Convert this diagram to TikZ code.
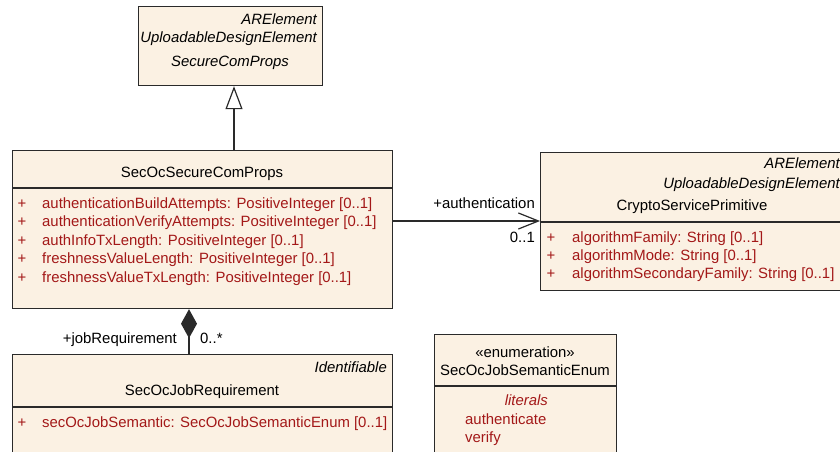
\documentclass[tikz,border=0pt]{standalone}
\usepackage{fontspec}
\setmainfont{Liberation Sans}
\usepackage{tikz}
\usetikzlibrary{arrows.meta}
\definecolor{umlfill}{HTML}{FBF1E3}
\definecolor{umlred}{HTML}{A31818}
\definecolor{umlline}{HTML}{2A2A2A}
\tikzset{
  cls/.style={draw=umlline,fill=umlfill,line width=1.2pt,anchor=north west,inner sep=0pt},
  txt/.style={inner sep=0pt,text height=10.5pt,text depth=0pt},
  cname/.style={txt,anchor=center},
  stereo/.style={txt,anchor=east,font=\itshape},
  attr/.style={txt,anchor=west,text=umlred},
  plus/.style={txt,anchor=center,text=umlred},
  sep/.style={draw=umlline,line width=1.2pt},
  gen/.style={-{Triangle[open,length=23pt,width=17pt]},draw=umlline,line width=1.2pt},
  assoc/.style={-{Straight Barb[length=20pt,width=16pt]},draw=umlline,line width=1.2pt},
  comp/.style={{Diamond[length=29pt,width=16pt]}-,draw=umlline,line width=1.2pt},
}
\begin{document}
\fontsize{14.9}{17}\selectfont
\begin{tikzpicture}[x=1pt,y=-1pt]
\useasboundingbox (0,0) rectangle (840,452);
% class boxes
\node[cls,minimum width=184pt,minimum height=79pt] (scp) at (138,6) {};
\node[cls,minimum width=380pt,minimum height=158pt] (scscp) at (12,150) {};
\node[cls,minimum width=305pt,minimum height=138pt] (crypto) at (540,152) {};
\node[cls,minimum width=380pt,minimum height=108pt] (jobreq) at (12,354) {};
\node[cls,minimum width=182pt,minimum height=128pt] (enum) at (434,334) {};
% compartments
\draw[sep] ([yshift=-38pt]scscp.north west) -- ([yshift=-38pt]scscp.north east);
\draw[sep] ([yshift=-70pt]crypto.north west) -- ([yshift=-70pt]crypto.north east);
\draw[sep] ([yshift=-53pt]jobreq.north west) -- ([yshift=-53pt]jobreq.north east);
\draw[sep] ([yshift=-52pt]enum.north west) -- ([yshift=-52pt]enum.north east);
% SecureComProps
\node[stereo] (scp1) at (317,19) {ARElement};
\node[stereo] (scp2) at (317,37) {UploadableDesignElement};
\node[cname,font=\itshape] (scpn) at (230,61) {SecureComProps};
% SecOcSecureComProps
\node[cname] (scscpn) at (202,172) {SecOcSecureComProps};
\foreach \t [count=\i] in {{authenticationBuildAttempts: PositiveInteger [0..1]},
  {authenticationVerifyAttempts: PositiveInteger [0..1]},
  {authInfoTxLength: PositiveInteger [0..1]},
  {freshnessValueLength: PositiveInteger [0..1]},
  {freshnessValueTxLength: PositiveInteger [0..1]}} {
  \node[plus] (sp\i) at (22,184.5+18.5*\i) {+};
  \node[attr] (sa\i) at (42,184.5+18.5*\i) {\t};
}
% CryptoServicePrimitive
\node[stereo] (cr1) at (840,163) {ARElement};
\node[stereo] (cr2) at (840,183) {UploadableDesignElement};
\node[cname] (crn) at (692,205) {CryptoServicePrimitive};
\foreach \t [count=\i] in {{algorithmFamily: String [0..1]},
  {algorithmMode: String [0..1]},
  {algorithmSecondaryFamily: String [0..1]}} {
  \node[plus] (cp\i) at (551,219+18*\i) {+};
  \node[attr] (ca\i) at (572,219+18*\i) {\t};
}
% SecOcJobRequirement
\node[stereo] (jr1) at (387,367) {Identifiable};
\node[cname] (jrn) at (202,390) {SecOcJobRequirement};
\node[plus] (jp1) at (22,422) {+};
\node[attr] (ja1) at (42,422) {secOcJobSemantic: SecOcJobSemanticEnum [0..1]};
% SecOcJobSemanticEnum
\node[cname] (en1) at (525,352) {«enumeration»};
\node[cname] (enn) at (525,370) {SecOcJobSemanticEnum};
\node[txt,anchor=east,text=umlred,font=\itshape] (enl) at (548,400) {literals};
\node[attr] (el1) at (465,419) {authenticate};
\node[attr] (el2) at (465,437) {verify};
% connectors
\coordinate (gx) at (234,0);
\coordinate (ay) at (0,221);
\coordinate (cx) at (189,0);
\draw[gen] (scscp.north -| gx) -- (scp.south -| gx);
\draw[assoc] (scscp.east |- ay) -- (crypto.west |- ay);
\draw[comp] (scscp.south -| cx) -- (jobreq.north -| cx);
\node[txt,anchor=east] (al) at (535,203) {+authentication};
\node[txt,anchor=east] (am) at (535,237) {0..1};
\node[txt,anchor=east] (jl) at (177,338) {+jobRequirement};
\node[txt,anchor=west] (jm) at (200,338) {0..*};
\end{tikzpicture}
\end{document}
